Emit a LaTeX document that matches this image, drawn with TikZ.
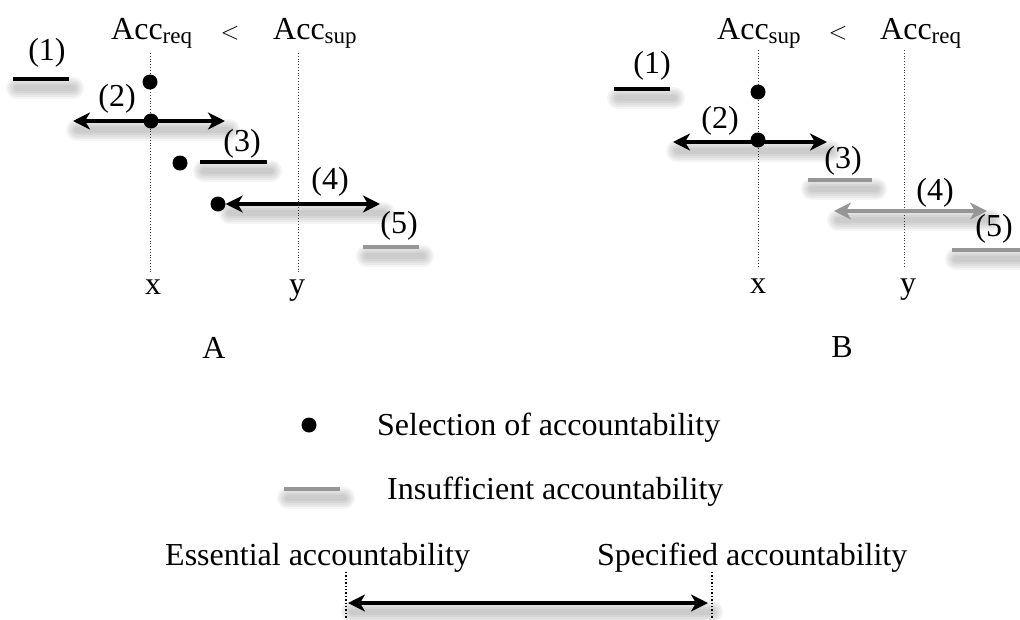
\documentclass[tikz,border=0pt]{standalone}
\usepackage{fontspec}
\setmainfont{Liberation Serif}
\usetikzlibrary{arrows.meta}

\definecolor{insuff}{RGB}{150,150,150}

% subscript in the large label font
\newcommand{\accsub}[1]{\raisebox{-4.5pt}{\fontsize{23}{23}\selectfont #1}}
% soft drop shadow under a horizontal segment
\newcommand{\castshadow}[2]{%
  \foreach \w in {22,18,14,10,6}{%
    \draw[line width=\w pt, opacity=0.045, black, line cap=round]
      ([shift={(4,9)}]#1) -- ([shift={(4,9)}]#2);}}

\tikzset{
  lbl/.style={font=\fontsize{32}{38}\selectfont, inner sep=0pt},
  guide/.style={dotted, line width=0.8pt, black!75},
  guidebold/.style={dotted, line width=1.4pt, black},
  solidseg/.style={line width=4.2pt, black},
  insuffseg/.style={line width=4.2pt, insuff},
  dbl/.style={line width=4.2pt, {Stealth[length=17pt,width=17pt,inset=5pt]}-{Stealth[length=17pt,width=17pt,inset=5pt]}},
  pick/.style={circle, fill=black, inner sep=0pt, minimum size=15pt},
}

\begin{document}
\begin{tikzpicture}[x=1pt,y=-1pt]
\useasboundingbox (0,0) rectangle (1020,619);

% ---------------- panel A ----------------
\node[lbl, anchor=base west] (ahead1) at (111,39) {Acc\accsub{req}};
\node[lbl, anchor=base] (alt) at (230,39) {$<$};
\node[lbl, anchor=base west] (ahead2) at (273,39) {Acc\accsub{sup}};

\coordinate (axt) at (150,53);  \coordinate (axb) at (150,272);
\coordinate (ayt) at (298,53);  \coordinate (ayb) at (298,272);
\draw[guide] (axt) -- (axb);
\draw[guide] (ayt) -- (ayb);
\node[lbl, anchor=base] (axl) at (153,294) {x};
\node[lbl, anchor=base] (ayl) at (297,294) {y};

% (1)
\coordinate (a1l) at (13,79); \coordinate (a1r) at (69,79);
\castshadow{a1l}{a1r}
\draw[solidseg] (a1l) -- (a1r);
\node[lbl] (a1t) at (47,53) {(1)};
\node[pick] (ad1) at (150,82) {};

% (2)
\coordinate (a2l) at (73,121); \coordinate (a2r) at (225,121);
\castshadow{a2l}{a2r}
\draw[dbl] (a2l) -- (a2r);
\node[pick] (ad2) at (151,121) {};
\node[lbl] (a2t) at (117,99) {(2)};

% (3)
\coordinate (a3l) at (200,162); \coordinate (a3r) at (267,162);
\castshadow{a3l}{a3r}
\draw[solidseg] (a3l) -- (a3r);
\node[pick] (ad3) at (180,163) {};
\node[lbl] (a3t) at (242,144) {(3)};

% (4)
\coordinate (a4r) at (380,204);
\node[pick] (ad4) at (218,204) {};
\castshadow{ad4.east}{a4r}
\draw[dbl] (ad4.east) -- (a4r);
\node[lbl] (a4t) at (330,182) {(4)};

% (5)
\coordinate (a5l) at (363,247); \coordinate (a5r) at (419,247);
\castshadow{a5l}{a5r}
\draw[insuffseg] (a5l) -- (a5r);
\node[lbl] (a5t) at (399,226) {(5)};

\node[lbl, anchor=base] (atitle) at (214,358) {A};

% ---------------- panel B ----------------
\node[lbl, anchor=base west] (bhead1) at (717,39) {Acc\accsub{sup}};
\node[lbl, anchor=base] (blt) at (838,39) {$<$};
\node[lbl, anchor=base west] (bhead2) at (880,39) {Acc\accsub{req}};

\coordinate (bxt) at (758,50);  \coordinate (bxb) at (758,268);
\coordinate (byt) at (904,50);  \coordinate (byb) at (904,268);
\draw[guide] (bxt) -- (bxb);
\draw[guide] (byt) -- (byb);
\node[lbl, anchor=base] (bxl) at (758,293) {x};
\node[lbl, anchor=base] (byl) at (908,293) {y};

% (1)
\coordinate (b1l) at (614,89); \coordinate (b1r) at (670,89);
\castshadow{b1l}{b1r}
\draw[solidseg] (b1l) -- (b1r);
\node[lbl] (b1t) at (652,66) {(1)};
\node[pick] (bd1) at (758,92) {};

% (2)
\coordinate (b2l) at (673,142); \coordinate (b2r) at (827,142);
\castshadow{b2l}{b2r}
\draw[dbl] (b2l) -- (b2r);
\node[pick] (bd2) at (758,140) {};
\node[lbl] (b2t) at (720,121) {(2)};

% (3)
\coordinate (b3l) at (808,180); \coordinate (b3r) at (872,180);
\castshadow{b3l}{b3r}
\draw[insuffseg] (b3l) -- (b3r);
\node[lbl] (b3t) at (843,161) {(3)};

% (4)
\coordinate (b4l) at (834,211); \coordinate (b4r) at (987,211);
\castshadow{b4l}{b4r}
\draw[dbl, insuff] (b4l) -- (b4r);
\node[lbl] (b4t) at (935,193) {(4)};

% (5)
\coordinate (b5l) at (952,250); \coordinate (b5r) at (1024,250);
\castshadow{b5l}{b5r}
\draw[insuffseg] (b5l) -- (b5r);
\node[lbl] (b5t) at (994,229) {(5)};

\node[lbl, anchor=base] (btitle) at (842,357) {B};

% ---------------- legend ----------------
\node[pick] (ldot) at (309,425) {};
\node[lbl, anchor=base west] (lsel) at (377,435) {Selection of accountability};

\coordinate (lgl) at (284,489); \coordinate (lgr) at (340,489);
\castshadow{lgl}{lgr}
\draw[insuffseg] (lgl) -- (lgr);
\node[lbl, anchor=base west] (lins) at (387,499) {Insufficient accountability};

\node[lbl, anchor=base west] (less) at (165,565) {Essential accountability};
\node[lbl, anchor=base west] (lspe) at (597,565) {Specified accountability};

\coordinate (let) at (346,572); \coordinate (leb) at (346,619);
\coordinate (lst) at (712,572); \coordinate (lsb) at (712,619);
\draw[guidebold] (let) -- (leb);
\draw[guidebold] (lst) -- (lsb);
\coordinate (lal) at (348,603); \coordinate (lar) at (708,603);
\castshadow{lal}{lar}
\draw[dbl] (lal) -- (lar);
\end{tikzpicture}
\end{document}
